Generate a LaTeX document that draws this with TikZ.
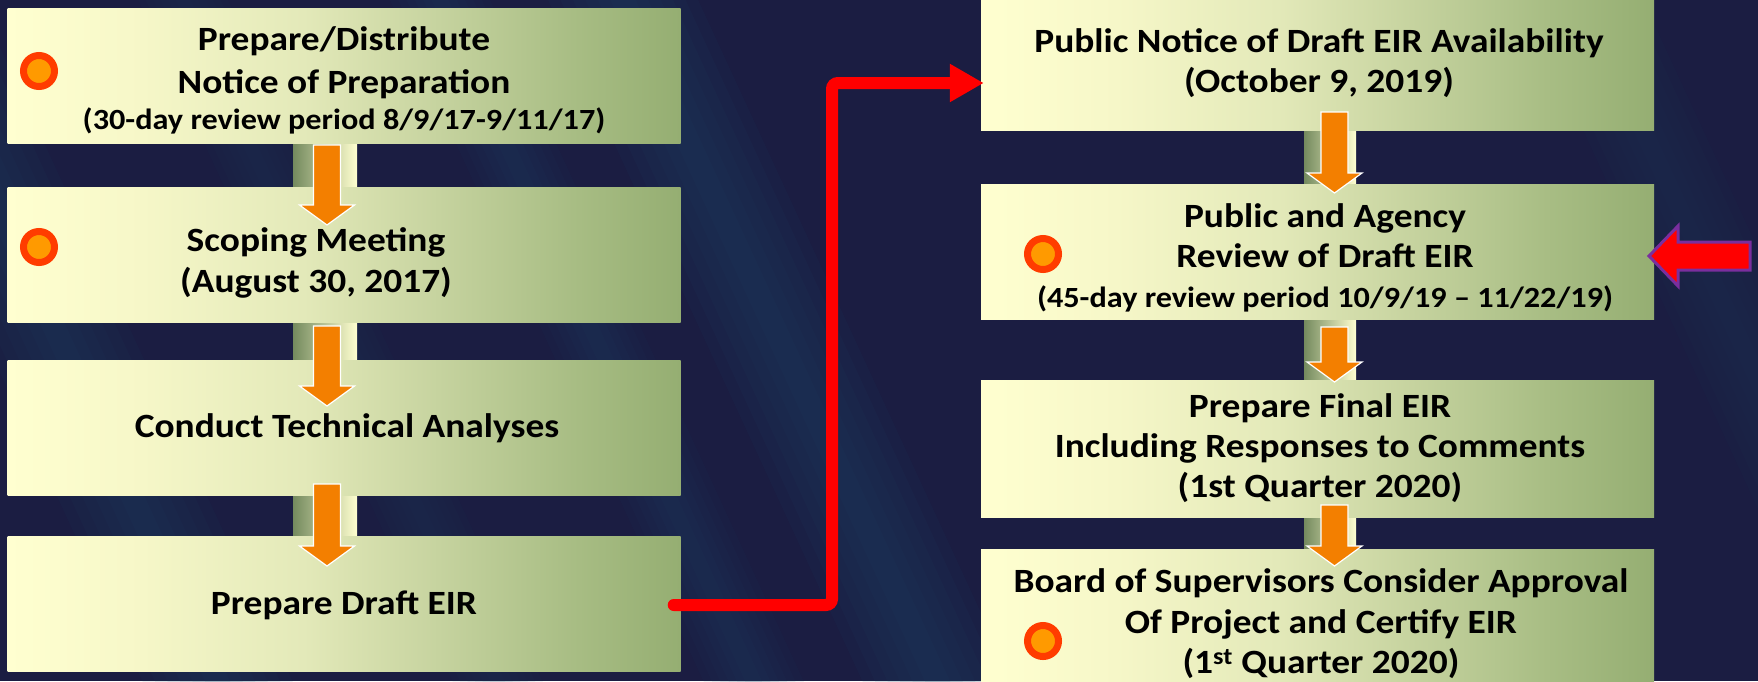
\documentclass[tikz,border=0pt]{standalone}
\usepackage{fontspec}
\setmainfont{Carlito}
\usetikzlibrary{arrows.meta,calc}
\definecolor{bgc}{HTML}{1B1D42}
\definecolor{streakc}{HTML}{1A4768}
\definecolor{bxA}{HTML}{FFFFD0}
\definecolor{bxB}{HTML}{F6F7C8}
\definecolor{bxC}{HTML}{E3E9B9}
\definecolor{bxD}{HTML}{C6D39F}
\definecolor{bxE}{HTML}{A8BD84}
\definecolor{bxF}{HTML}{95AE72}
\definecolor{stA}{HTML}{748A5E}
\definecolor{arrc}{HTML}{F37F00}
\definecolor{ringc}{HTML}{FF3C00}
\definecolor{dotc}{HTML}{FF9A00}
\definecolor{purplec}{HTML}{7A2E9E}
\pgfdeclarehorizontalshading{boxshade}{100bp}{color(0bp)=(bxA); color(25bp)=(bxA); color(35bp)=(bxB); color(47bp)=(bxC); color(57bp)=(bxD); color(67bp)=(bxE); color(75bp)=(bxF); color(100bp)=(bxF)}
\pgfdeclarehorizontalshading{stripshade}{100bp}{color(0bp)=(stA); color(25bp)=(stA); color(75bp)=(bxA); color(100bp)=(bxA)}
\newcommand\blockarrow[2]{%
  \draw[blockarr] let \p1=(#1), \p2=(#2) in
    (\x1-13.5pt,\y1) -- (\x1+13.5pt,\y1) -- (\x1+13.5pt,\y2+20pt) -- (\x1+27.5pt,\y2+20pt)
    -- (\x1,\y2) -- (\x1-27.5pt,\y2+20pt) -- (\x1-13.5pt,\y2+20pt) -- cycle;}
\newcommand\smallline{\fontsize{29.3}{40}\selectfont}
\tikzset{
  stepbox/.style={rectangle, draw=none, shade, shading=boxshade, inner sep=0pt,
    minimum width=673pt, minimum height=135pt},
  boxtext/.style={align=center, inner sep=0pt, text=black,
    font=\bfseries\fontsize{34}{40}\selectfont, xscale=1.10},
  dot/.style={circle, draw=ringc, fill=dotc, line width=7pt, minimum size=31pt, inner sep=0pt},
  blockarr/.style={fill=arrc, draw=white, line width=1.2pt, line join=miter},
  strip/.style={shade, shading=stripshade, draw=none},
  redconn/.style={draw=red, line width=12pt, rounded corners=6pt, line cap=round,
    -{Triangle[length=34pt,width=36pt]}},
  pointer/.style={fill=red, draw=purplec, line width=3pt, line join=miter},
}
\begin{document}
\begin{tikzpicture}[x=1pt,y=-1pt]
\useasboundingbox (0,0) rectangle (1758,681);
\clip (0,0) rectangle (1758,681);
\fill[bgc] (0,0) rectangle (1758,681);
% background streaks (soft diagonal bands)
\foreach \xa/\xb/\w/\o in {600/960/150/0.09, 417/776/100/0.07, -120/240/150/0.08, 1560/1920/120/0.05, 160/520/90/0.05}{
  \foreach \k in {1,2,3,4,5,6}{
    \fill[streakc, opacity=\o] ({\xa-\k*\w/12},-50) -- ({\xa+\k*\w/12},-50) -- ({\xb+\k*\w/12},730) -- ({\xb-\k*\w/12},730) -- cycle;
  }
}
% strips between boxes
\fill[strip] (293,142) rectangle (357,188);
\fill[strip] (293,321) rectangle (357,361);
\fill[strip] (293,494) rectangle (357,537);
\fill[strip] (1304,129) rectangle (1356,185);
\fill[strip] (1304,318) rectangle (1356,381);
\fill[strip] (1304,516) rectangle (1356,550);
% boxes
\node[stepbox] (b1) at (344,75.5) {};
\node[stepbox] (b2) at (344,254.5) {};
\node[stepbox] (b3) at (344,427.5) {};
\node[stepbox] (b4) at (344,603.5) {};
\node[stepbox] (r1) at (1317.5,62.5) {};
\node[stepbox] (r2) at (1317.5,251.5) {};
\node[stepbox, minimum height=137pt] (r3) at (1317.5,448.5) {};
\node[stepbox, minimum height=141pt] (r4) at (1317.5,619.5) {};
% arrow end points
\coordinate (a1s) at (327,145); \coordinate (a1e) at (327,225);
\coordinate (a2s) at (327,326); \coordinate (a2e) at (327,406);
\coordinate (a3s) at (327,484); \coordinate (a3e) at (327,566);
\coordinate (a4s) at (1334.5,112); \coordinate (a4e) at (1334.5,193);
\coordinate (a5s) at (1334.5,327); \coordinate (a5e) at (1334.5,382);
\coordinate (a6s) at (1334.5,505); \coordinate (a6e) at (1334.5,566);
\blockarrow{a1s}{a1e}
\blockarrow{a2s}{a2e}
\blockarrow{a3s}{a3e}
\blockarrow{a4s}{a4e}
\blockarrow{a5s}{a5e}
\blockarrow{a6s}{a6e}
% dots
\node[dot] (d1) at (39,71) {};
\node[dot] (d2) at (39,247) {};
\node[dot] (d3) at (1043,254) {};
\node[dot] (d4) at (1043,641) {};
% texts
\node[boxtext] (b1t) at (344,80) {Prepare/Distribute\\[3pt] Notice of Preparation\\[-4pt] {\smallline (30-day review period 8/9/17-9/11/17)}};
\node[boxtext] (b2t) at (316,263) {Scoping Meeting\\[1pt] (August 30, 2017)};
\node[boxtext] (b3t) at (347,428) {Conduct Technical Analyses};
\node[boxtext] (b4t) at (344,605) {Prepare Draft EIR};
\node[boxtext] (r1t) at (1319,63) {Public Notice of Draft EIR Availability\\ (October 9, 2019)};
\node[boxtext] (r2t) at (1325,258) {Public and Agency\\ Review of Draft EIR\\ {\smallline (45-day review period 10/9/19 – 11/22/19)}};
\node[boxtext] (r3t) at (1320,448) {Prepare Final EIR\\ Including Responses to Comments\\ (1st Quarter 2020)};
\node[boxtext] (r4t) at (1321,624) {Board of Supervisors Consider Approval\\[1pt] Of Project and Certify EIR\\ (1\textsuperscript{st} Quarter 2020)};
% red connector
\coordinate (rc) at (832,83);
\draw[redconn] ([xshift=-7pt,yshift=-1.5pt]b4.east) -| (rc) -- ([xshift=3pt,yshift=-20.5pt]r1.west);
% pointer arrow
\draw[pointer] (1649,256) -- (1678,226) -- (1678,242) -- (1750,242) -- (1750,270) -- (1678,270) -- (1678,286) -- cycle;
\end{tikzpicture}
\end{document}
